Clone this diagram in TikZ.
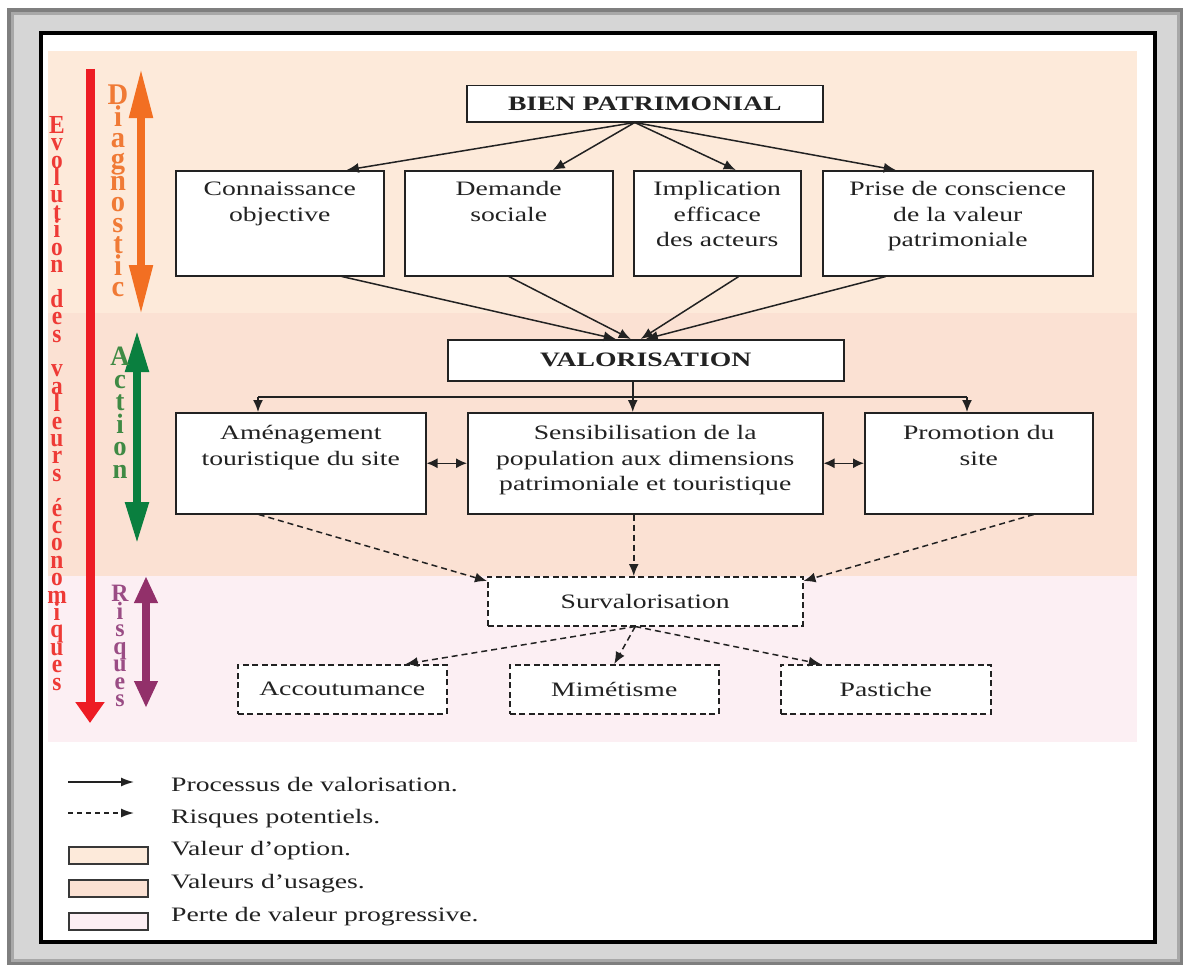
\documentclass[tikz,border=0pt]{standalone}
\usepackage{fontspec}
\setmainfont{Liberation Serif}[FakeStretch=1.35]
\newfontfamily\vfontA{Liberation Serif}[FakeStretch=0.9]
\newfontfamily\vfontB{Liberation Serif}[FakeStretch=0.95]
\usetikzlibrary{arrows.meta}
\definecolor{fgdark}{HTML}{7F7F7F}
\definecolor{fgmid}{HTML}{A8A8A8}
\definecolor{fglight}{HTML}{D6D6D6}
\definecolor{bandA}{HTML}{FDEADA}
\definecolor{bandB}{HTML}{FBE1D3}
\definecolor{bandC}{HTML}{FCEFF3}
\definecolor{evored}{HTML}{EE3A36}
\definecolor{evoarrow}{HTML}{ED1C24}
\definecolor{diagtxt}{HTML}{F07A35}
\definecolor{diagarrow}{HTML}{F26F22}
\definecolor{acttxt}{HTML}{3F8A44}
\definecolor{actarrow}{HTML}{0A7F3F}
\definecolor{risqtxt}{HTML}{9A4C84}
\definecolor{risqarrow}{HTML}{92306A}
\definecolor{ink}{HTML}{222222}
\newcommand{\bxt}[4]{\parbox[t][#2][t]{#1}{\centering\rule{0pt}{#3}#4}}
\tikzset{
  box/.style={draw=ink, line width=1.5pt, fill=white, inner sep=0pt, text=ink,
    font=\fontsize{20.5}{25.5}\selectfont},
  bbox/.style={box, font=\fontsize{20.5}{25.5}\selectfont\bfseries},
  dbox/.style={box, dash pattern=on 6pt off 3.5pt},
  arr/.style={draw=ink, line width=1.5pt, -{Latex[length=12pt,width=10pt]}},
  darr/.style={arr, dash pattern=on 6pt off 4pt},
  both/.style={draw=ink, line width=1.5pt, {Latex[length=11pt,width=10pt]}-{Latex[length=11pt,width=10pt]}},
  legtxt/.style={inner sep=0pt, anchor=base west, text=ink, font=\fontsize{20.5}{25}\selectfont},
  legbox/.style={draw=ink!90, line width=1.5pt, inner sep=0pt, minimum width=79pt, minimum height=17pt, anchor=north west},
  vtxt/.style={inner sep=0pt, anchor=north, align=center},
}
\begin{document}
\begin{tikzpicture}[x=1pt,y=-1pt]
\useasboundingbox (0,0) rectangle (1189,966);
% frame
\fill[fgdark] (7,8) rectangle (1183,965);
\fill[fgmid] (11,12) rectangle (1180,962);
\fill[fglight] (14,15) rectangle (1177,959);
\fill[white] (39,31) rectangle (1157,944);
\draw[line width=4pt] (41,33) rectangle (1155,942);
% bands
\fill[bandA] (48,51) rectangle (1137,313);
\fill[bandB] (48,313) rectangle (1137,576);
\fill[bandC] (48,576) rectangle (1137,742);

% left vertical texts and arrows
\coordinate (evoT) at (90,69);
\coordinate (evoB) at (90,723);
\draw[evoarrow, line width=9pt, -{Triangle[length=21pt,width=28pt]}] (evoT) -- (evoB);
\node[vtxt, text=evored, font=\vfontA\bfseries\fontsize{26}{17.4}\selectfont\lineskiplimit-50pt] (evo) at (57,116)
 {E\\v\\o\\l\\u\\t\\i\\o\\n\\[17.4pt]d\\e\\s\\[17.4pt]v\\a\\l\\e\\u\\r\\s\\[17.4pt]é\\c\\o\\n\\o\\m\\i\\q\\u\\e\\s};

\coordinate (diagT) at (141,68);
\coordinate (diagB) at (141,315);
\draw[diagarrow, line width=8pt, {Triangle[length=50pt,width=22pt]}-{Triangle[length=50pt,width=22pt]}] (diagT) -- (diagB);
\node[vtxt, text=diagtxt, font=\vfontB\bfseries\fontsize{30}{21.3}\selectfont\lineskiplimit-50pt] (diag) at (118,85)
 {D\\i\\a\\g\\n\\o\\s\\t\\i\\c};

\coordinate (actT) at (137,330);
\coordinate (actB) at (137,544);
\draw[actarrow, line width=8pt, {Triangle[length=42pt,width=22pt]}-{Triangle[length=42pt,width=22pt]}] (actT) -- (actB);
\node[vtxt, text=acttxt, font=\vfontB\bfseries\fontsize{28}{22.5}\selectfont\lineskiplimit-50pt] (act) at (120,347)
 {A\\c\\t\\i\\o\\n};

\coordinate (risT) at (146,576);
\coordinate (risB) at (146,708);
\draw[risqarrow, line width=8pt, {Triangle[length=27pt,width=22pt]}-{Triangle[length=27pt,width=22pt]}] (risT) -- (risB);
\node[vtxt, text=risqtxt, font=\vfontB\bfseries\fontsize{25}{17.5}\selectfont\lineskiplimit-50pt] (ris) at (120,585)
 {R\\i\\s\\q\\u\\e\\s};

% nodes
\node[bbox, anchor=north west, minimum width=356pt, minimum height=36pt] (bien) at (466,85) {BIEN PATRIMONIAL};
\node[box, anchor=north west] (conn) at (175,170) {\bxt{208pt}{105pt}{25pt}{Connaissance\\objective}};
\node[box, anchor=north west] (dem) at (404,170) {\bxt{208pt}{105pt}{25pt}{Demande\\sociale}};
\node[box, anchor=north west] (impl) at (633,170) {\bxt{167pt}{105pt}{25pt}{Implication\\efficace\\des acteurs}};
\node[box, anchor=north west] (prise) at (822,170) {\bxt{270pt}{105pt}{25pt}{Prise de conscience\\de la valeur\\patrimoniale}};

\node[bbox, anchor=north west, minimum width=396pt, minimum height=41pt] (val) at (447,339) {VALORISATION};
\node[box, anchor=north west] (amen) at (175,412) {\bxt{250pt}{101pt}{27pt}{Aménagement\\touristique du site}};
\node[box, anchor=north west] (sens) at (467,412) {\bxt{355pt}{101pt}{27pt}{Sensibilisation de la\\population aux dimensions\\patrimoniale et touristique}};
\node[box, anchor=north west] (promo) at (864,412) {\bxt{228pt}{101pt}{27pt}{Promotion du\\site}};

\node[dbox, anchor=north west, minimum width=315pt, minimum height=49pt] (surv) at (487,576) {Survalorisation};
\node[dbox, anchor=north west, minimum width=209pt, minimum height=49pt] (accou) at (237,664) {Accoutumance};
\node[dbox, anchor=north west, minimum width=209pt, minimum height=49pt] (mime) at (509,664) {Mimétisme};
\node[dbox, anchor=north west, minimum width=210pt, minimum height=49pt] (past) at (780,664) {Pastiche};

% connectors
\draw[arr] ([xshift=-10pt]bien.south) -- ([xshift=67pt]conn.north);
\draw[arr] ([xshift=-10pt]bien.south) -- ([xshift=44pt]dem.north);
\draw[arr] ([xshift=-10pt]bien.south) -- ([xshift=18.5pt]impl.north);
\draw[arr] ([xshift=-10pt]bien.south) -- ([xshift=-62pt]prise.north);

\draw[arr] ([xshift=62pt]conn.south) -- ([xshift=-30pt]val.north);
\draw[arr] (dem.south) -- ([xshift=-15pt]val.north);
\draw[arr] ([xshift=21.5pt]impl.south) -- ([xshift=-5pt]val.north);
\draw[arr] ([xshift=-72pt]prise.south) -- ([xshift=0pt]val.north);

\coordinate (bl) at (258,397);
\coordinate (br) at (967,397);
\draw[arr] ([xshift=-13pt]val.south) -- ([xshift=-12.5pt]sens.north);
\draw[draw=ink, line width=1.5pt] (bl) -- (br);
\draw[arr] (bl) -- (bl |- amen.north);
\draw[arr] (br) -- (br |- promo.north);

\draw[both] (amen.east) -- (sens.west);
\draw[both] (sens.east) -- (promo.west);

\draw[darr] ([xshift=-11.5pt]sens.south) -- ([xshift=-11.5pt]surv.north);
\draw[darr] ([xshift=-42pt]amen.south) -- ([yshift=-5pt]surv.north west);
\draw[darr] ([xshift=55pt]promo.south) -- ([yshift=-5pt]surv.north east);

\draw[darr] ([xshift=-10pt]surv.south) -- ([xshift=63.5pt]accou.north);
\draw[darr] ([xshift=-10pt]surv.south) -- (mime.north);
\draw[darr] ([xshift=-10pt]surv.south) -- ([xshift=-65pt]past.north);

% legend
\coordinate (la1) at (68,782);
\coordinate (lb1) at (134,782);
\coordinate (la2) at (68,813);
\coordinate (lb2) at (134,813);
\draw[draw=ink, line width=1.5pt, -{Latex[length=13pt,width=9pt]}] (la1) -- (lb1);
\draw[draw=ink, line width=1.5pt, dash pattern=on 5pt off 4pt, -{Latex[length=13pt,width=9pt]}] (la2) -- (lb2);
\node[legbox, fill=bandA] (lg1) at (68,846) {};
\node[legbox, fill=bandB] (lg2) at (68,879) {};
\node[legbox, fill=bandC] (lg3) at (68,912) {};
\node[legtxt] (lt1) at (171,791) {Processus de valorisation.};
\node[legtxt] (lt2) at (171,823) {Risques potentiels.};
\node[legtxt] (lt3) at (171,855) {Valeur d’option.};
\node[legtxt] (lt4) at (171,888) {Valeurs d’usages.};
\node[legtxt] (lt5) at (171,921) {Perte de valeur progressive.};
\end{tikzpicture}
\end{document}
